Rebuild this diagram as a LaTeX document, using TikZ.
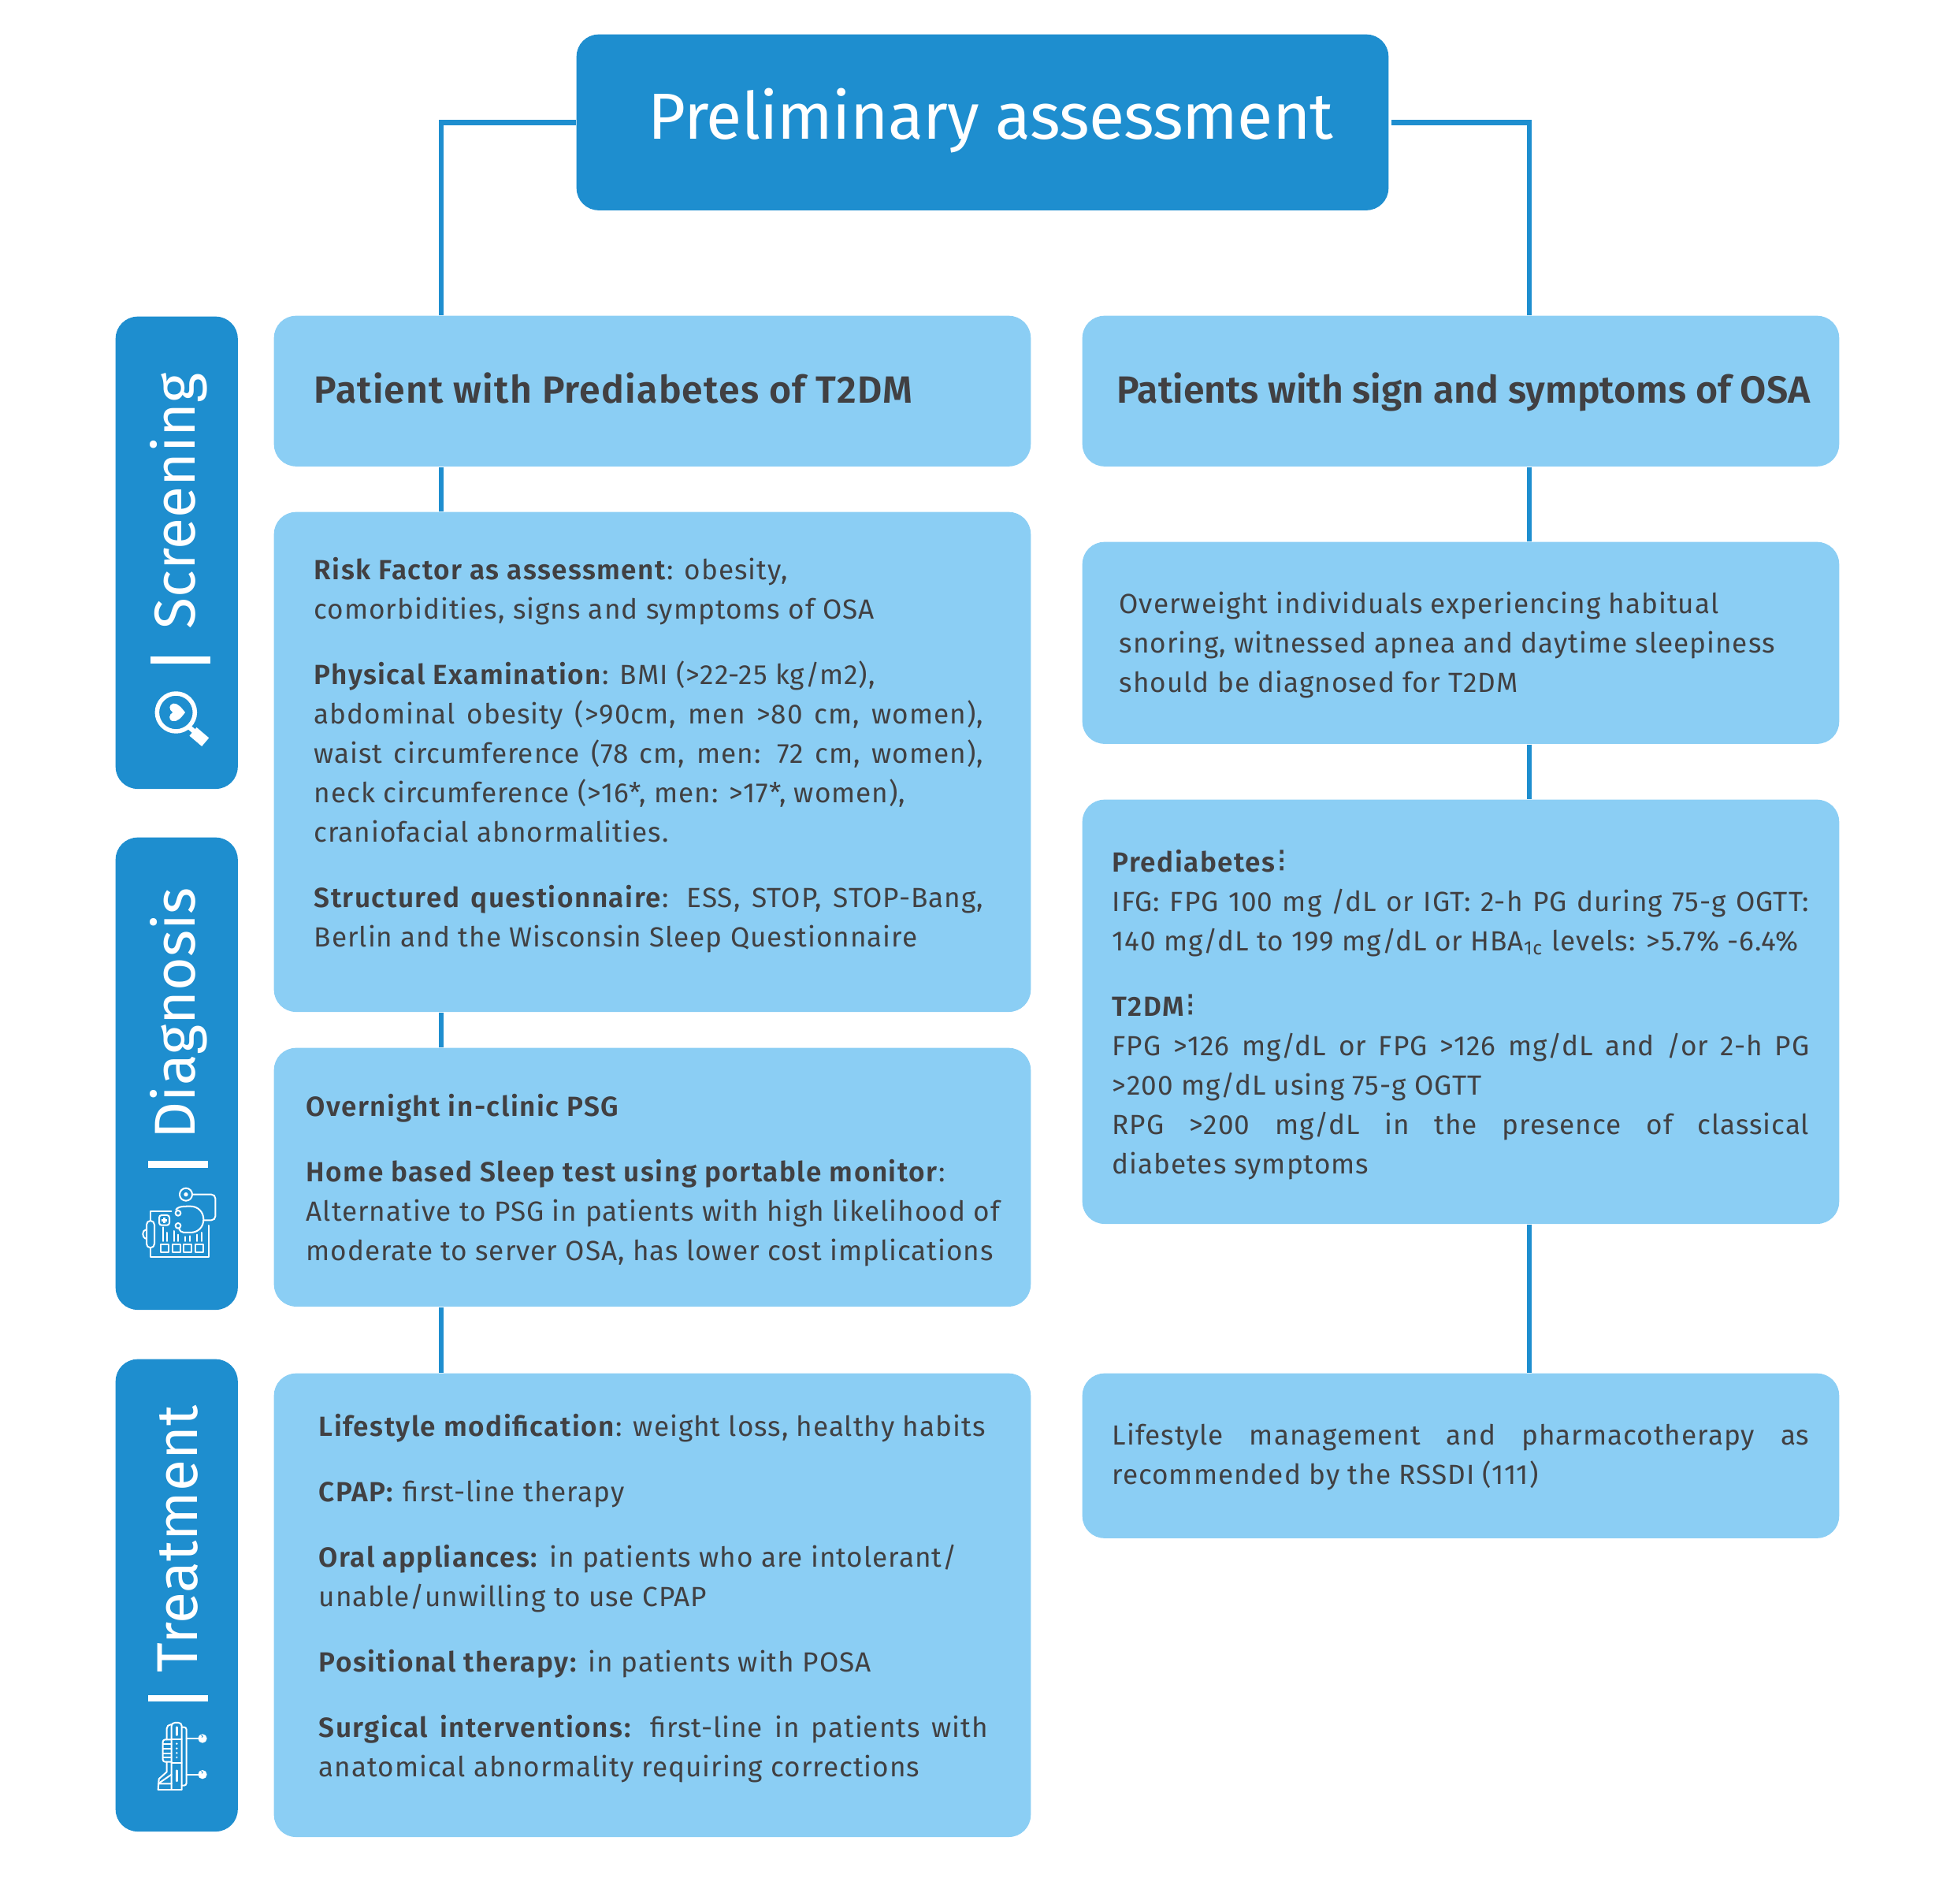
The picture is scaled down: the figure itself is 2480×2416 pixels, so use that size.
\documentclass[tikz,border=0pt]{standalone}
\usepackage{fontspec}
\setmainfont{Fira Sans}[LetterSpace=2.8, BoldFont={Fira Sans SemiBold}, BoldFeatures={LetterSpace=4.2}]
\newfontfamily\plainfont{Fira Sans}[BoldFont={Fira Sans SemiBold}]
\newfontfamily\dotsfont{DejaVu Sans}
\usetikzlibrary{calc}
\definecolor{tabblue}{HTML}{1E8ECF}
\definecolor{paleblue}{HTML}{8BCEF4}
\definecolor{bodygray}{HTML}{414042}
\newcommand{\bodyfont}{\fontsize{10pt}{14.22pt}\selectfont}
\newcommand{\tridots}{{\dotsfont\fontsize{12pt}{14.22pt}\selectfont ⁝}}
\tikzset{
    lightbox/.style={anchor=north west, rectangle, fill=paleblue, rounded corners=0.28cm, inner sep=0pt, minimum width=9.6cm},
    sidetab/.style={anchor=north west, rectangle, fill=tabblue, rounded corners=0.28cm, inner sep=0pt, minimum width=1.55cm, minimum height=5.99cm},
    conn/.style={draw=tabblue, line width=0.065cm},
    bodytext/.style={anchor=north west, inner sep=0pt, align=justify, text width=#1, text=bodygray, font=\bodyfont, execute at begin node=\strut},
    headtext/.style={anchor=base west, inner sep=0pt, text=bodygray, font=\fontsize{13.7pt}{17pt}\selectfont\plainfont\bfseries},
    tablabel/.style={anchor=base west, rotate=90, inner sep=0pt, text=white, font=\fontsize{20.8pt}{24pt}\selectfont\plainfont},
    iconline/.style={draw=white, line width=0.02cm, line join=round, line cap=round},
}
\begin{document}
\begin{tikzpicture}[x=0.01cm, y=-0.01cm]
    \useasboundingbox (0, 0) rectangle (2480, 2416);
    \coordinate (lineL) at (560, 0);
    \coordinate (lineR) at (1941, 0);

    % Top box
    \node (prelim) [anchor=north west, fill=tabblue, rounded corners=0.28cm, inner sep=0pt, minimum width=10.3cm, minimum height=2.23cm] at (731, 43) {};
    \node (prelimText) [anchor=base west, inner sep=0pt, text=white, font=\fontsize{23.5pt}{28pt}\selectfont\plainfont\addfontfeatures{LetterSpace=-1}] at (822, 177) {Preliminary assessment};

    % Left column
    \node (prediab) [lightbox, minimum height=1.91cm] at (347, 400) {};
    \node (risk) [lightbox, minimum height=6.34cm] at (347, 649) {};
    \node (sleeptest) [lightbox, minimum height=3.28cm] at (347, 1329) {};
    \node (treat) [lightbox, minimum height=5.88cm] at (347, 1742) {};

    % Right column
    \node (osa) [lightbox, minimum height=1.91cm] at (1373, 400) {};
    \node (overweight) [lightbox, minimum height=2.56cm] at (1373, 687) {};
    \node (criteria) [lightbox, minimum height=5.38cm] at (1373, 1014) {};
    \node (manage) [lightbox, minimum height=2.09cm] at (1373, 1742) {};

    % Connectors
    \draw[conn] (prelim.west) -| (prediab.north -| lineL);
    \draw[conn] ([xshift=0.03cm]prelim.east) -| (osa.north -| lineR);
    \draw[conn] (prediab.south -| lineL) -- (risk.north -| lineL);
    \draw[conn] (risk.south -| lineL) -- (sleeptest.north -| lineL);
    \draw[conn] (sleeptest.south -| lineL) -- (treat.north -| lineL);
    \draw[conn] (osa.south -| lineR) -- (overweight.north -| lineR);
    \draw[conn] (overweight.south -| lineR) -- (criteria.north -| lineR);
    \draw[conn] (criteria.south -| lineR) -- (manage.north -| lineR);

    % Headings
    \node (prediabText) [headtext] at (398, 512) {\addfontfeatures{LetterSpace=2.5}Patient with Prediabetes of T2DM};
    \node (osaText) [headtext] at (1417, 512) {Patients with sign and symptoms of OSA};

    % Left column text
    \node (riskText) [bodytext=8.49cm] at (398, 700) {\textbf{Risk Factor as assessment}: obesity,\\
        comorbidities, signs and symptoms of OSA\\[9.4pt]
        \textbf{Physical Examination}: BMI (>22-25 kg/m2),\\
        abdominal obesity (>90cm, men >80 cm, women),\linebreak
        waist circumference (78 cm, men: 72 cm, women),\linebreak
        neck circumference (>16*, men: >17*, women),\\
        craniofacial abnormalities.\\[9.4pt]
        \textbf{Structured questionnaire}: ESS, STOP, STOP-Bang,\linebreak
        Berlin and the Wisconsin Sleep Questionnaire};
    \node (sleeptestText) [bodytext=8.8cm] at (388, 1381) {\textbf{Overnight in-clinic PSG}\\[9.4pt]
        \textbf{Home based Sleep test using portable monitor}:\\
        Alternative to PSG in patients with high likelihood of\linebreak
        moderate to server OSA, has lower cost implications};
    \node (treatText) [bodytext=8.49cm] at (404, 1787) {\textbf{Lifestyle modification}: weight loss, healthy habits\\[9.4pt]
        \textbf{CPAP:} first-line therapy\\[9.4pt]
        \textbf{Oral appliances:} in patients who are intolerant/\\
        unable/unwilling to use CPAP\\[9.4pt]
        \textbf{Positional therapy:} in patients with POSA\\[9.4pt]
        \textbf{Surgical interventions:} first-line in patients with\linebreak
        anatomical abnormality requiring corrections};

    % Right column text
    \node (overweightText) [bodytext=8.8cm] at (1420, 743) {Overweight individuals experiencing habitual\\
        snoring, witnessed apnea and daytime sleepiness\\
        should be diagnosed for T2DM};
    \node (criteriaText) [bodytext=8.84cm] at (1411, 1071) {\textbf{Prediabetes}\tridots\\
        IFG: FPG 100 mg /dL or IGT: 2-h PG during 75-g OGTT:\linebreak
        140 mg/dL to 199 mg/dL or HBA\textsubscript{1c} levels: >5.7\% -6.4\%\\[9.4pt]
        \textbf{T2DM}\tridots\\
        FPG >126 mg/dL or FPG >126 mg/dL and /or 2-h PG\linebreak
        >200 mg/dL using 75-g OGTT\\
        RPG >200 mg/dL in the presence of classical\linebreak
        diabetes symptoms};
    \node (manageText) [bodytext=8.84cm] at (1411, 1798) {Lifestyle management and pharmacotherapy as\linebreak
        recommended by the RSSDI (111)};

    % Side tabs
    \node (tabScreen) [sidetab] at (146, 401) {};
    \node (tabDiag) [sidetab] at (146, 1062) {};
    \node (tabTreat) [sidetab] at (146, 1724) {};
    \node (tabScreenText) [tablabel] at (247, 799) {Screening};
    \node (tabDiagText) [tablabel] at (247, 1446) {Diagnosis};
    \node (tabTreatText) [tablabel] at (250, 2123) {Treatment};
    \fill[white] (191, 833) rectangle (267, 842);
    \fill[white] (188, 1473) rectangle (264, 1482);
    \fill[white] (188, 2151) rectangle (264, 2159);

    % Magnifier icon
    \begin{scope}[shift={(130, 780)}, x=0.01cm/3, y=-0.01cm/3]
        \draw[iconline, line width=0.055cm] (280, 372) circle (72);
        \draw[draw=white, line width=0.14cm] (345, 445) -- (392, 485);
        \draw[draw=white, line width=0.06cm] (330, 428) -- (350, 445);
        \fill[white] (315, 372) .. controls (300, 392) and (285, 410) .. (265, 405) .. controls (252, 400) and (252, 380) .. (268, 372) .. controls (252, 362) and (252, 342) .. (270, 338) .. controls (285, 336) and (300, 352) .. (315, 372);
    \end{scope}

    % Stethoscope icon
    \begin{scope}[shift={(130, 1440)}, x=0.01cm/3, y=-0.01cm/3]
        \draw[iconline] (318, 227) circle (24);
        \fill[white] (318, 227) circle (8);
        \draw[iconline, rounded corners=0.05cm] (345, 227) -- (430, 227) -- (430, 325) -- (388, 325);
        \draw[iconline] (288, 298) circle (10);
        \draw[iconline] (288, 346) circle (10);
        \draw[iconline] (280, 285) .. controls (288, 275) and (295, 272) .. (335, 272) .. controls (365, 272) and (385, 295) .. (385, 322) .. controls (385, 350) and (365, 372) .. (335, 372) -- (310, 372) .. controls (300, 372) and (295, 365) .. (292, 358);
        \draw[iconline] (262, 292) -- (182, 292) -- (182, 325);
        \draw[iconline] (182, 432) -- (182, 465) -- (405, 465) -- (405, 345);
        \draw[iconline, rounded corners=0.05cm] (168, 327) rectangle (198, 430);
        \draw[iconline] (168, 360) .. controls (150, 362) and (148, 392) .. (168, 396);
        \draw[iconline, rounded corners=0.03cm] (216, 306) rectangle (255, 344);
        \draw[draw=white, line width=0.025cm] (235, 314) -- (235, 336) (224, 325) -- (246, 325);
        \foreach \x/\y in {230/352, 245/372, 272/366, 288/380, 316/388, 332/385, 360/380, 377/372} {
            \draw[iconline] (\x, \y) -- (\x, 405);
        }
        \foreach \x in {236, 281, 325, 369} {
            \draw[iconline] (\x-15, 418) rectangle (\x+15, 448);
        }
    \end{scope}

    % Appliance icon
    \begin{scope}[shift={(130, 2120)}, x=0.01cm/3, y=-0.01cm/3]
        \draw[iconline, rounded corners=0.04cm] (302, 452) -- (302, 198) -- (263, 198) -- (263, 452);
        \draw[iconline] (212, 452) -- (302, 452);
        \draw[iconline, rounded corners=0.03cm] (302, 215) -- (320, 215) -- (320, 437) -- (302, 437);
        \draw[iconline, rounded corners=0.03cm] (263, 262) -- (230, 262) -- (230, 347) -- (263, 347);
        \draw[iconline, rounded corners=0.05cm] (263, 205) -- (245, 205) -- (245, 262);
        \foreach \y in {280, 297, 314, 331} {
            \draw[iconline] (232, \y) -- (263, \y);
        }
        \draw[iconline] (263, 262) -- (302, 262) (263, 350) -- (302, 350);
        \draw[iconline, line width=0.025cm] (283, 215) -- (283, 245) (283, 380) -- (283, 420);
        \foreach \y in {278, 296, 313, 330} {
            \fill[white] (283, \y) circle (4);
        }
        \draw[iconline] (245, 347) -- (245, 385) -- (215, 412) -- (212, 452);
        \draw[iconline] (215, 428) -- (263, 395) (215, 430) -- (263, 430);
        \foreach \y in {258, 395} {
            \draw[iconline] (320, \y) -- (365, \y);
            \fill[white] (381, \y) circle (17);
            \draw[draw=tabblue, line width=0.008cm] (378, \y-4) arc[start angle=90, end angle=-120, radius=4];
        }
    \end{scope}
\end{tikzpicture}
\end{document}
